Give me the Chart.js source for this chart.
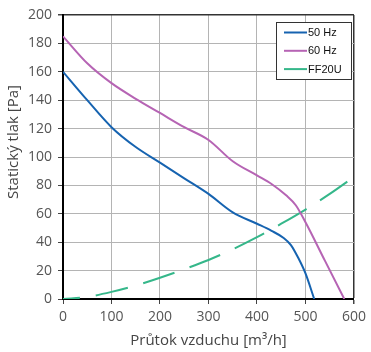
<!DOCTYPE html>
<html>
<head>
<meta charset="utf-8">
<script src="https://cdn.jsdelivr.net/npm/chart.js@4/dist/chart.umd.min.js"></script>
<style>
  html, body { margin: 0; padding: 0; background: #fff; }
  #wrap { width: 371px; height: 352px; }
</style>
</head>
<body>
<div id="wrap"><canvas id="fanChart" width="371" height="352"></canvas></div>
<script>
// values
const hz50X = [0, 50, 100, 150, 200, 250, 300, 350, 400, 430, 455, 470, 485, 500, 518];
const hz50Y = [160, 140, 121, 107, 96, 85, 74, 61, 53, 48, 43, 38, 29, 18, 0];
const hz60X = [0, 50, 100, 150, 200, 250, 300, 350, 400, 430, 460, 480, 500, 540, 580];
const hz60Y = [185, 166, 152, 141, 131, 121, 112, 97, 87, 81, 73, 66, 54, 27, 0];
const ff20uX = [0, 50, 100, 150, 200, 250, 300, 350, 400, 450, 500, 550, 600];
const ff20uY = [0, 1.5, 5, 9.5, 15, 21, 27.5, 35, 43.5, 53, 63, 74, 86];

const seriesNames = ['50 Hz', '60 Hz', 'FF20U'];
const seriesColors = ['#1663b0', '#b664b4', '#35b78a'];

const xTitle = 'Průtok vzduchu [m³/h]';
const yTitle = 'Statický tlak [Pa]';

function toPoints(xs, ys) {
  return xs.map((x, i) => ({ x: x, y: ys[i] }));
}

// legend box + axis titles drawn on the canvas
const extras = {
  id: 'extras',
  afterDraw(chart) {
    const ctx = chart.ctx;
    const area = chart.chartArea;
    ctx.save();
    // legend
    ctx.fillStyle = '#fff';
    ctx.fillRect(276, 22, 75, 57);
    ctx.strokeStyle = '#333';
    ctx.lineWidth = 1;
    ctx.strokeRect(276.5, 22.5, 75, 57);
    ctx.font = '11px "Liberation Sans", Arial, sans-serif';
    ctx.textBaseline = 'middle';
    chart.data.datasets.forEach((ds, i) => {
      const y = 32.5 + i * 18.3;
      ctx.strokeStyle = ds.borderColor;
      ctx.lineWidth = 2;
      ctx.beginPath();
      ctx.moveTo(284, y);
      ctx.lineTo(307, y);
      ctx.stroke();
      ctx.fillStyle = '#111';
      ctx.fillText(ds.label, 308, y + 0.5);
    });
    // axis titles
    ctx.fillStyle = '#444';
    ctx.font = '15px "Open Sans", sans-serif';
    ctx.textAlign = 'center';
    ctx.fillText(xTitle, (area.left + area.right) / 2, 341);
    ctx.translate(14, 142);
    ctx.rotate(-Math.PI / 2);
    ctx.fillText(yTitle, 0, 0);
    ctx.restore();
  }
};

const ctx = document.getElementById('fanChart').getContext('2d');
new Chart(ctx, {
  type: 'line',
  data: {
    datasets: [
      {
        label: seriesNames[0],
        data: toPoints(hz50X, hz50Y),
        borderColor: seriesColors[0],
        borderWidth: 2,
        pointRadius: 0,
        cubicInterpolationMode: 'monotone'
      },
      {
        label: seriesNames[1],
        data: toPoints(hz60X, hz60Y),
        borderColor: seriesColors[1],
        borderWidth: 2,
        pointRadius: 0,
        cubicInterpolationMode: 'monotone'
      },
      {
        label: seriesNames[2],
        data: toPoints(ff20uX, ff20uY),
        borderColor: seriesColors[2],
        borderWidth: 2,
        borderDash: [33, 16],
        borderDashOffset: 16,
        pointRadius: 0,
        cubicInterpolationMode: 'monotone'
      }
    ]
  },
  options: {
    responsive: false,
    animation: false,
    layout: { padding: { top: 15, right: 14, left: 0, bottom: 0 } },
    plugins: {
      legend: { display: false },
      tooltip: { enabled: false }
    },
    scales: {
      x: {
        type: 'linear',
        min: 0,
        max: 600,
        afterFit(scale) { scale.height = 53; },
        ticks: {
          stepSize: 100,
          color: '#555',
          padding: 5,
          font: { family: '"Open Sans", sans-serif', size: 14 }
        },
        grid: {
          color: c => c.tick && c.tick.value === 600 ? '#333' : '#b4b4b4',
          lineWidth: c => c.tick && c.tick.value === 600 ? 1.5 : 1,
          tickColor: '#444',
          tickLength: 5
        },
        border: { color: '#000', width: 2 }
      },
      y: {
        min: 0,
        max: 200,
        afterFit(scale) { scale.width = 63; },
        ticks: {
          stepSize: 20,
          color: '#555',
          padding: 6,
          font: { family: '"Open Sans", sans-serif', size: 14 }
        },
        grid: {
          color: c => c.tick && c.tick.value === 200 ? '#333' : '#b4b4b4',
          lineWidth: c => c.tick && c.tick.value === 200 ? 1.5 : 1,
          tickColor: '#444',
          tickLength: 5
        },
        border: { color: '#000', width: 2 }
      }
    }
  },
  plugins: [extras]
});
</script>
</body>
</html>
